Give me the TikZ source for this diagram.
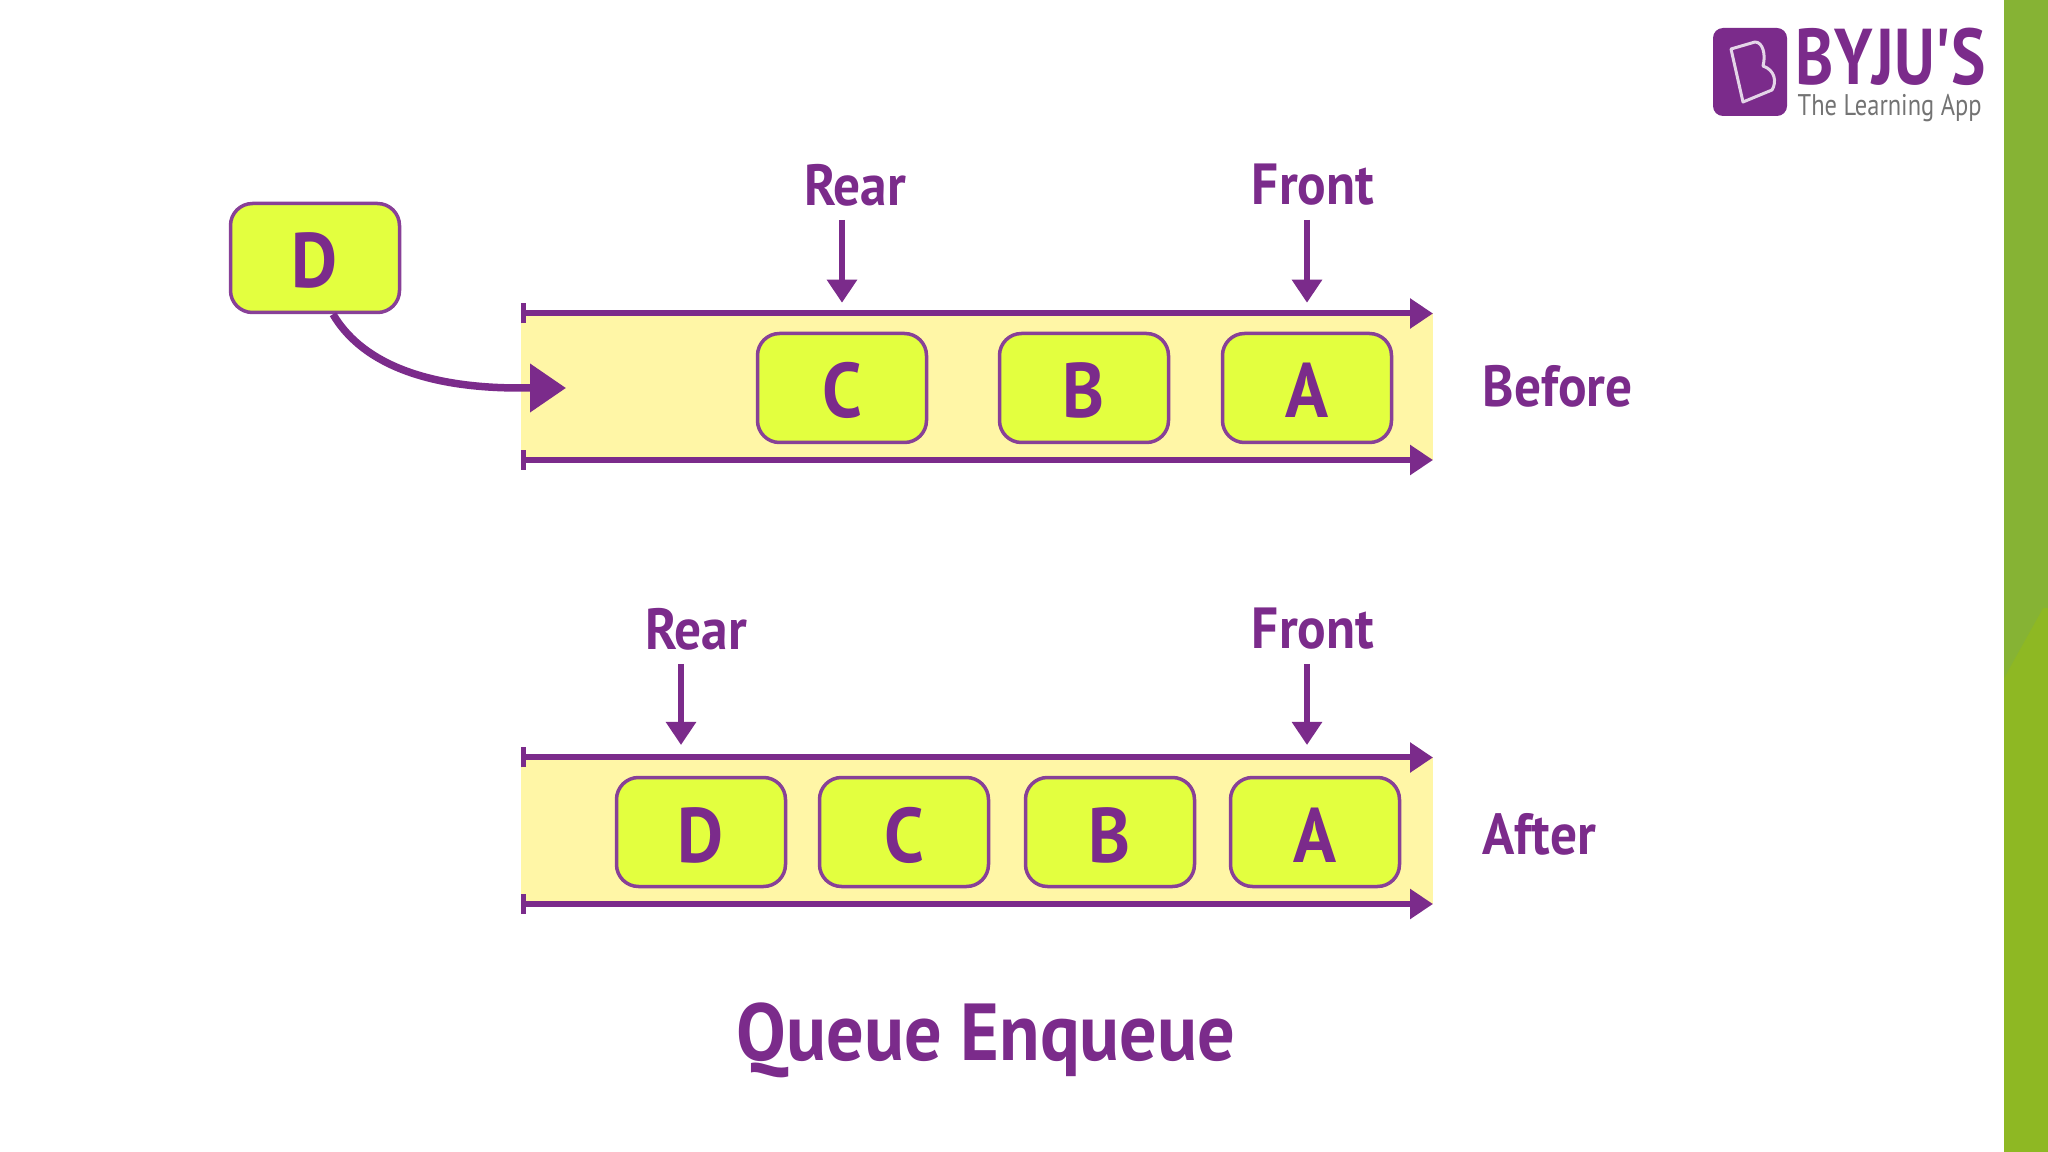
\documentclass[tikz,border=0pt]{standalone}
\usepackage{xcolor}
\usepackage{fontspec}
\setmainfont{PT Sans}
\newfontfamily\qnarrow[FakeStretch=0.92]{PT Sans}
\newfontfamily\qlogo[FakeStretch=0.82]{PT Sans}
\usepackage{tikz}
\usetikzlibrary{arrows.meta}
\definecolor{qpurple}{HTML}{7B2B8B}
\definecolor{qband}{HTML}{FFF6A6}
\definecolor{qbox}{HTML}{E3FF3F}
\definecolor{qgreen}{HTML}{8EB823}
\definecolor{qgreentop}{HTML}{86B334}
\tikzset{
  qitem/.style={draw=qpurple!90,line width=0.35mm,fill=qbox,rounded corners=2.2mm,minimum width=1.69cm,minimum height=1.09cm,text=qpurple,text height=6mm,text depth=0pt,font=\qnarrow\bfseries\fontsize{22}{22}\selectfont},
  qlabel/.style={text=qpurple,font=\qnarrow\bfseries\fontsize{16.5}{16.5}\selectfont,inner sep=0pt},
  qrail/.style={draw=qpurple,line width=0.6mm,{Bar[width=2mm,line width=.5mm]}-{Triangle[width=2.9mm,length=2.3mm]}},
  qpointer/.style={draw=qpurple,line width=0.6mm,-{Triangle[width=2.9mm,length=2.3mm]}},
}
\begin{document}
\begin{tikzpicture}[y=-1cm]
\useasboundingbox (0,0) rectangle (20.48,11.52);
% side bar
\fill[qgreen] (20.04,0) rectangle (20.48,11.52);
\fill[qgreentop] (20.04,0) -- (20.48,0) -- (20.48,6.08) -- (20.43,6.08) -- (20.04,6.78) -- cycle;
% logo
\node[fill=qpurple,rounded corners=1mm,minimum width=0.74cm,minimum height=0.88cm,inner sep=0pt] (logo) at (17.5,0.72) {};
\draw[white!80!qpurple,line width=0.3mm,line join=round] (17.31,0.49) -- (17.55,0.42) .. controls (17.63,0.42) and (17.66,0.55) .. (17.63,0.66) .. controls (17.75,0.7) and (17.77,0.82) .. (17.72,0.9) -- (17.43,1.02) -- cycle;
\node[text=qpurple,inner sep=0pt,anchor=west,font=\qlogo\fontsize{22.5}{22.5}\selectfont\bfseries] (brand) at (17.95,0.57) {BYJU'S};
\node[text=black!55,inner sep=0pt,anchor=west,font=\qlogo\fontsize{8.5}{9}\selectfont] (tagline) at (17.97,1.08) {The Learning App};
% before
\fill[qband] (5.21,3.135) rectangle (14.33,4.6);
\coordinate (beforeTopL) at (5.21,3.135);
\coordinate (beforeTopR) at (14.33,3.135);
\coordinate (beforeBotL) at (5.21,4.6);
\coordinate (beforeBotR) at (14.33,4.6);
\draw[qrail] (beforeTopL) -- (beforeTopR);
\draw[qrail] (beforeBotL) -- (beforeBotR);
\node[qitem] (newD) at (3.15,2.58) {D};
\node[qitem] (beforeC) at (8.42,3.88) {C};
\node[qitem] (beforeB) at (10.84,3.88) {B};
\node[qitem] (beforeA) at (13.07,3.88) {A};
\node[qlabel] (beforeRear) at (8.55,1.85) {Rear};
\node[qlabel] (beforeFront) at (13.13,1.85) {Front};
\node[qlabel,anchor=west] (beforeText) at (14.82,3.86) {Before};
\draw[qpointer] (8.42,2.2) -- ([yshift=2.9mm]beforeC.north);
\draw[qpointer] (13.07,2.2) -- ([yshift=2.9mm]beforeA.north);
\coordinate (entry) at (5.66,3.88);
\coordinate (entryBase) at (5.2,3.88);
\draw[draw=qpurple,line width=0.75mm,-{Triangle[width=4.7mm,length=3.6mm]}] ([xshift=1.8mm]newD.south) .. controls (3.6,3.6) and (4.2,3.88) .. (entryBase) -- (entry);
% after
\fill[qband] (5.21,7.575) rectangle (14.33,9.04);
\coordinate (afterTopL) at (5.21,7.575);
\coordinate (afterTopR) at (14.33,7.575);
\coordinate (afterBotL) at (5.21,9.04);
\coordinate (afterBotR) at (14.33,9.04);
\draw[qrail] (afterTopL) -- (afterTopR);
\draw[qrail] (afterBotL) -- (afterBotR);
\node[qitem] (afterD) at (7.01,8.32) {D};
\node[qitem] (afterC) at (9.04,8.32) {C};
\node[qitem] (afterB) at (11.1,8.32) {B};
\node[qitem] (afterA) at (13.15,8.32) {A};
\node[qlabel] (afterRear) at (6.96,6.29) {Rear};
\node[qlabel] (afterFront) at (13.13,6.29) {Front};
\node[qlabel,anchor=west] (afterText) at (14.82,8.34) {After};
\coordinate (afterRearTip) at (6.81,7.45);
\coordinate (afterFrontTip) at (13.07,7.45);
\draw[qpointer] (6.81,6.64) -- (afterRearTip);
\draw[qpointer] (13.07,6.64) -- (afterFrontTip);
% title
\node[text=qpurple,inner sep=0pt,font=\qnarrow\bfseries\fontsize{23}{23}\selectfont] (title) at (9.86,10.4) {Queue Enqueue};
\end{tikzpicture}
\end{document}
